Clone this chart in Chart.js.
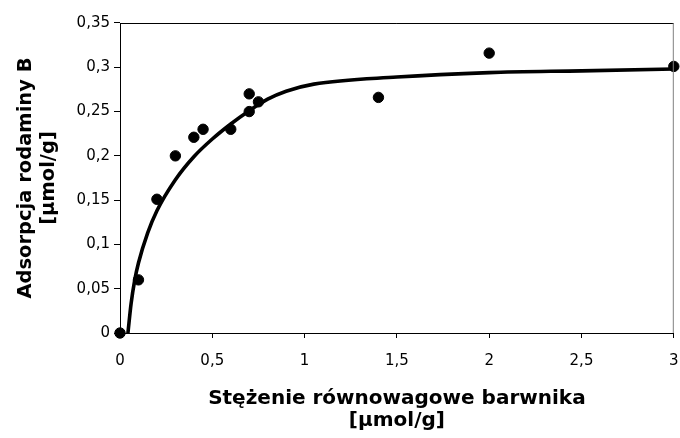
<!DOCTYPE html>
<html>
<head>
<meta charset="utf-8">
<script src="https://cdn.jsdelivr.net/npm/chart.js@4/dist/chart.umd.min.js"></script>
<style>
  html, body { margin: 0; padding: 0; background: #ffffff; }
  #wrap { width: 680px; height: 438px; }
</style>
</head>
<body>
<div id="wrap"><canvas id="c" width="680" height="438"></canvas></div>
<script>
// Measured points
const pointX = [0, 0.1, 0.2, 0.3, 0.4, 0.45, 0.6, 0.7, 0.7, 0.75, 1.4, 2.0, 3.0];
const pointY = [0, 0.06, 0.151, 0.2, 0.221, 0.23, 0.23, 0.27, 0.25, 0.261, 0.266, 0.316, 0.301];

// Fitted curve
const curveX = [0.043, 0.06, 0.08, 0.1, 0.15, 0.2, 0.3, 0.4, 0.5, 0.6, 0.7, 0.8, 0.9, 1.05, 1.5, 2.0, 2.5, 3.0];
const curveY = [0, 0.033, 0.06, 0.079, 0.113, 0.138, 0.173, 0.199, 0.219, 0.236, 0.251, 0.264, 0.273, 0.281, 0.289, 0.294, 0.296, 0.298];

// Tick labels
const xTickLabels = ['0', '0,5', '1', '1,5', '2', '2,5', '3'];
const yTickLabels = ['0', '0,05', '0,1', '0,15', '0,2', '0,25', '0,3', '0,35'];

const xTitle = ['Stężenie równowagowe barwnika', '[µmol/g]'];
const yTitle = ['Adsorpcja rodaminy B', '[µmol/g]'];

const FONT = "'DejaVu Sans', sans-serif";

const framePlugin = {
  id: 'frame',
  afterDatasetsDraw(chart) {
    const a = chart.chartArea, ctx = chart.ctx;
    ctx.save();
    ctx.lineWidth = 1;
    ctx.strokeStyle = '#000000';
    ctx.beginPath();
    ctx.moveTo(a.left, a.top + 0.5);
    ctx.lineTo(a.right, a.top + 0.5);
    ctx.stroke();
    ctx.strokeStyle = '#808080';
    ctx.beginPath();
    ctx.moveTo(a.right - 0.5, a.top);
    ctx.lineTo(a.right - 0.5, a.bottom);
    ctx.stroke();
    ctx.restore();
  }
};

new Chart(document.getElementById('c'), {
  type: 'scatter',
  data: {
    datasets: [
      {
        label: 'pomiary',
        data: pointX.map((x, i) => ({ x: x, y: pointY[i] })),
        backgroundColor: '#000000',
        borderColor: '#000000',
        pointRadius: 5.2,
        pointHoverRadius: 5.2,
        clip: false
      },
      {
        label: 'model',
        type: 'line',
        data: curveX.map((x, i) => ({ x: x, y: curveY[i] })),
        borderColor: '#000000',
        borderWidth: 3.6,
        pointRadius: 0,
        fill: false,
        cubicInterpolationMode: 'monotone',
        borderCapStyle: 'round'
      }
    ]
  },
  options: {
    responsive: false,
    animation: false,
    devicePixelRatio: 1,
    layout: { padding: { top: 23, right: 6, left: 0, bottom: 0 } },
    plugins: {
      legend: { display: false },
      tooltip: { enabled: false }
    },
    scales: {
      x: {
        type: 'linear',
        min: 0,
        max: 3,
        afterFit: s => { s.height = 105; s.paddingLeft = 0; s.paddingRight = 0; },
        afterBuildTicks: s => { s.ticks = xTickLabels.map((_, i) => ({ value: i * 0.5 })); },
        ticks: {
          color: '#000000',
          font: { family: FONT, size: 15 },
          padding: 14,
          maxRotation: 0,
          autoSkip: false,
          callback: (v, i) => xTickLabels[i]
        },
        grid: { drawOnChartArea: false, drawTicks: true, tickLength: 5, color: '#000000', lineWidth: 1 },
        border: { display: true, color: '#000000', width: 1 },
        title: {
          display: true,
          text: xTitle,
          color: '#000000',
          font: { family: FONT, size: 20, weight: 'bold', lineHeight: 1.1 },
          padding: { top: 0, bottom: 6 }
        }
      },
      y: {
        type: 'linear',
        min: 0,
        max: 0.35,
        afterFit: s => { s.width = 120; s.paddingTop = 0; s.paddingBottom = 0; },
        afterBuildTicks: s => { s.ticks = yTickLabels.map((_, i) => ({ value: i * 0.05 })); },
        ticks: {
          color: '#000000',
          font: { family: FONT, size: 15 },
          padding: 4,
          autoSkip: false,
          callback: (v, i) => yTickLabels[i]
        },
        grid: { drawOnChartArea: false, drawTicks: true, tickLength: 6, color: '#000000', lineWidth: 1 },
        border: { display: true, color: '#000000', width: 1 },
        title: {
          display: true,
          text: yTitle,
          color: '#000000',
          font: { family: FONT, size: 19.5, weight: 'bold', lineHeight: 1.2 },
          padding: { top: 14, bottom: 0 }
        }
      }
    }
  },
  plugins: [framePlugin]
});
</script>
</body>
</html>
